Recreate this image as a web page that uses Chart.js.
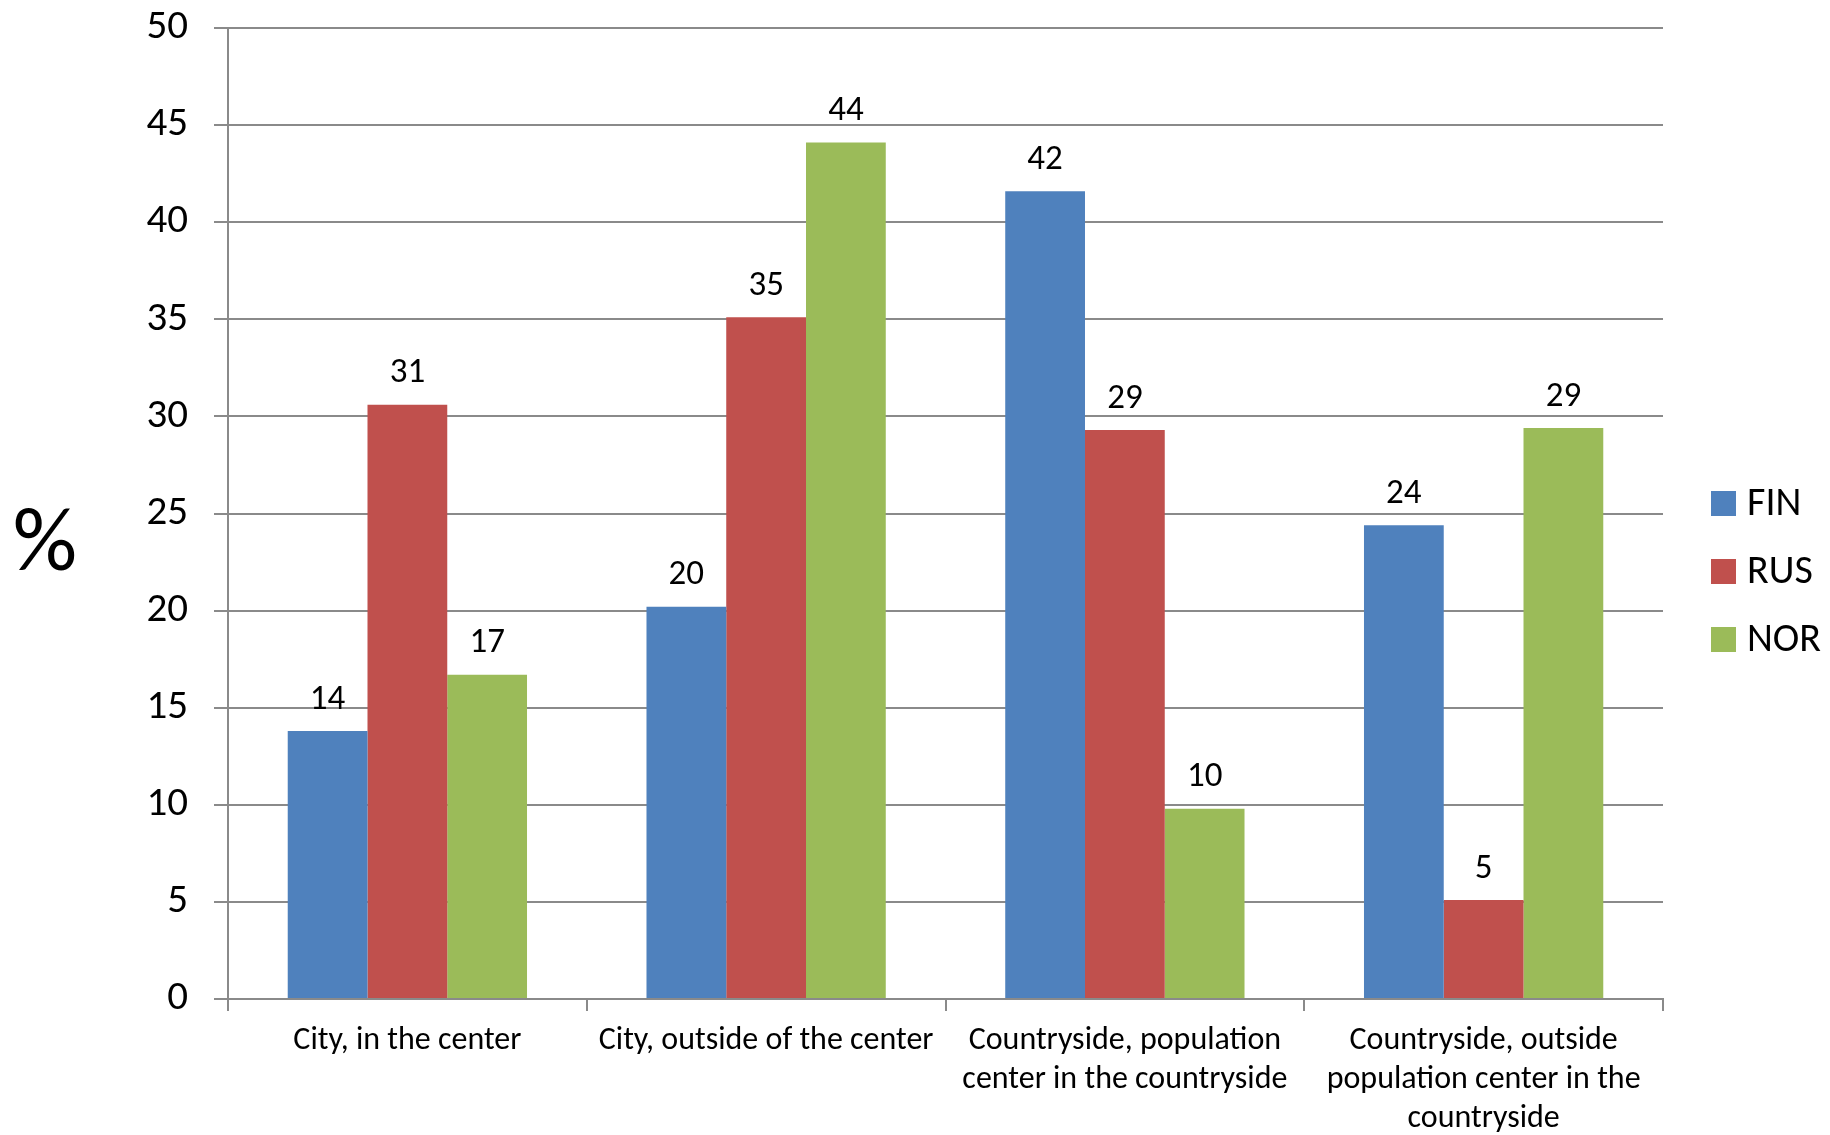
<!DOCTYPE html>
<html>
<head>
<meta charset="utf-8">
<title>Place of residence by country</title>
<script src="https://cdn.jsdelivr.net/npm/chart.js@4.4.1/dist/chart.umd.min.js"></script>
<style>
  html, body { margin: 0; padding: 0; background: #fff; }
  #wrap { position: relative; width: 1830px; height: 1135px; }
</style>
</head>
<body>
<div id="wrap"><canvas id="residenceChart"></canvas></div>
<script>
// categories and per-country shares (%)
const categories = [
  'City, in the center',
  'City, outside of the center',
  ['Countryside, population', 'center in the countryside'],
  ['Countryside, outside', 'population center in the', 'countryside']
];
const countries = ['FIN', 'RUS', 'NOR'];
const finValues = [13.8, 20.2, 41.6, 24.4];
const rusValues = [30.6, 35.1, 29.3, 5.1];
const norValues = [16.7, 44.1, 9.8, 29.4];
const yMin = 0;
const yMax = 50;
const yStep = 5;

const FONT = 'Calibri, Carlito, Lato, sans-serif';
const GRID = '#8a8a8a';
const COLORS = ['#4f81bd', '#c0504d', '#9bbb59'];

Chart.defaults.font.family = FONT;
Chart.defaults.color = '#000';

// numbers above the bars
const valueLabels = {
  id: 'valueLabels',
  afterDatasetsDraw(chart) {
    const ctx = chart.ctx;
    ctx.save();
    ctx.font = '35px ' + FONT;
    ctx.fillStyle = '#000';
    ctx.textAlign = 'center';
    ctx.textBaseline = 'middle';
    chart.data.datasets.forEach((ds, i) => {
      chart.getDatasetMeta(i).data.forEach((bar, j) => {
        ctx.fillText(Math.round(ds.data[j]), bar.x, bar.y - 31);
      });
    });
    ctx.restore();
  }
};

// horizontal "%" unit on the left of the value axis
const unitLabel = {
  id: 'unitLabel',
  afterDraw(chart) {
    const ctx = chart.ctx;
    const area = chart.chartArea;
    ctx.save();
    ctx.font = '90px ' + FONT;
    ctx.fillStyle = '#000';
    ctx.textAlign = 'center';
    ctx.textBaseline = 'middle';
    ctx.fillText('%', 45, (area.top + area.bottom) / 2 + 34);
    ctx.restore();
  }
};

// legend to the right of the plot: square swatch + country code
const sideLegend = {
  id: 'sideLegend',
  afterDraw(chart) {
    const ctx = chart.ctx;
    const area = chart.chartArea;
    const box = 25;
    const rowGap = 68;
    const x = area.right + 48;
    const midY = chart.height / 2 + 4;
    const n = chart.data.datasets.length;
    ctx.save();
    ctx.font = '40px ' + FONT;
    ctx.textAlign = 'left';
    ctx.textBaseline = 'middle';
    chart.data.datasets.forEach((ds, i) => {
      const y = midY + (i - (n - 1) / 2) * rowGap;
      ctx.fillStyle = ds.backgroundColor;
      ctx.fillRect(x, y - box / 2, box, box);
      ctx.fillStyle = '#000';
      ctx.fillText(ds.label, x + box + 11, y + 1);
    });
    ctx.restore();
  }
};

const ctx = document.getElementById('residenceChart');
new Chart(ctx, {
  type: 'bar',
  data: {
    labels: categories,
    datasets: countries.map((c, i) => ({
      label: c,
      data: [finValues, rusValues, norValues][i],
      backgroundColor: COLORS[i]
    }))
  },
  options: {
    responsive: true,
    maintainAspectRatio: false,
    animation: false,
    categoryPercentage: 0.667,
    barPercentage: 1.0,
    layout: { padding: { top: 28, left: 0, right: 167, bottom: 0 } },
    scales: {
      x: {
        grid: {
          offset: true,
          drawOnChartArea: false,
          drawTicks: true,
          tickLength: 12,
          color: GRID,
          lineWidth: 2
        },
        border: { color: GRID, width: 2 },
        ticks: {
          font: { size: 32, lineHeight: 1.22 },
          padding: 10,
          maxRotation: 0,
          autoSkip: false
        },
        afterFit: s => { s.height = 136; s.paddingLeft = 0; s.paddingRight = 0; }
      },
      y: {
        min: yMin,
        max: yMax,
        ticks: { stepSize: yStep, font: { size: 41 }, padding: 26 },
        grid: { color: GRID, lineWidth: 2, tickLength: 14 },
        border: { color: GRID, width: 2 },
        afterFit: s => { s.width = 228; s.paddingTop = 0; s.paddingBottom = 0; }
      }
    },
    plugins: {
      legend: { display: false },
      tooltip: { enabled: false }
    }
  },
  plugins: [valueLabels, unitLabel, sideLegend]
});
</script>
</body>
</html>
